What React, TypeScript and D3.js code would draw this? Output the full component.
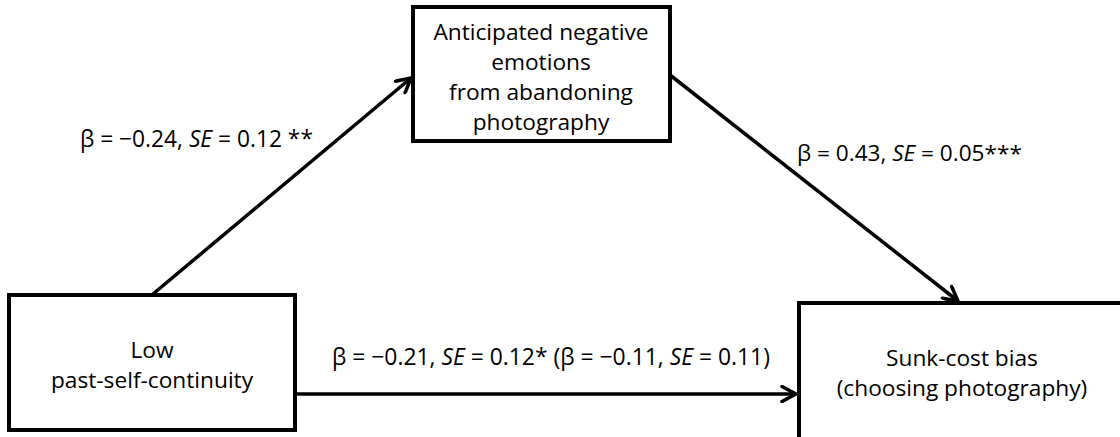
import React, { useEffect, useRef } from 'react';
import * as d3 from 'd3';

// mediation model: nodes, their label lines, and the path coefficients
const nodeIds = ['predictor', 'mediator', 'outcome'];
const nodeLines = [
  ['Low', 'past-self-continuity'],
  ['Anticipated negative', 'emotions', 'from abandoning', 'photography'],
  ['Sunk-cost bias', '(choosing photography)'],
];
const pathFrom = ['predictor', 'mediator', 'predictor'];
const pathTo = ['mediator', 'outcome', 'outcome'];
const pathBeta = ['\u22120.24', '0.43', '\u22120.21'];
const pathSE = ['0.12', '0.05', '0.12'];
const pathStars = [' **', '***', '*'];
const directBeta = ['', '', '\u22120.11'];
const directSE = ['', '', '0.11'];

const W = 1120;
const H = 437;
const FONT = '"Open Sans", Lato, sans-serif';
const FS = 21;
const BOX_FS = 22.7;

// layout of boxes (x0, y0, x1, y1)
const boxes: Record<string, number[]> = {
  predictor: [9, 295, 295, 430],
  mediator: [413, 7, 670, 141],
  outcome: [799, 303, 1130, 450],
};
// arrow endpoints per path
const anchors = [
  [[153, 294], [411, 78]],
  [[670, 75], [958, 301]],
  [[295, 394], [796, 394]],
];
const labelPos = [
  [80, 147],
  [797, 161],
  [332, 365],
];
const labelWidth = [233, 225, 438];

export default function App() {
  const ref = useRef<SVGSVGElement>(null);

  useEffect(() => {
    document.body.style.margin = '0';
    const svg = d3.select(ref.current);
    svg.selectAll('*').remove();

    svg.append('rect').attr('width', W).attr('height', H).attr('fill', '#fff');

    svg.append('defs').append('marker')
      .attr('id', 'chev')
      .attr('viewBox', '0 0 18 18')
      .attr('refX', 16).attr('refY', 9)
      .attr('markerWidth', 18).attr('markerHeight', 18)
      .attr('markerUnits', 'userSpaceOnUse')
      .attr('orient', 'auto')
      .append('path')
      .attr('d', 'M2,1.5 L16,9 L2,16.5')
      .attr('fill', 'none')
      .attr('stroke', '#000')
      .attr('stroke-width', 3.5)
      .attr('stroke-linecap', 'round')
      .attr('stroke-linejoin', 'round');

    const line = d3.line();

    // paths
    svg.selectAll('path.edge')
      .data(pathFrom.map((f, i) => ({ f, t: pathTo[i], pts: anchors[i] })))
      .enter()
      .append('path')
      .attr('class', 'edge')
      .attr('d', (d) => line(d.pts as [number, number][]))
      .attr('stroke', '#000')
      .attr('stroke-width', 3.5)
      .attr('fill', 'none')
      .attr('marker-end', 'url(#chev)');

    // boxes
    const g = svg.selectAll('g.node')
      .data(nodeIds.map((id, i) => ({ id, lines: nodeLines[i], b: boxes[id] })))
      .enter()
      .append('g')
      .attr('class', 'node');

    g.append('rect')
      .attr('x', (d) => d.b[0])
      .attr('y', (d) => d.b[1])
      .attr('width', (d) => d.b[2] - d.b[0])
      .attr('height', (d) => d.b[3] - d.b[1])
      .attr('fill', '#fff')
      .attr('stroke', '#000')
      .attr('stroke-width', 4);

    const textCenter: Record<string, number[]> = {
      predictor: [152, 358],
      mediator: [541, 40],
      outcome: [962, 366],
    };

    g.each(function (d) {
      const [cx, y0] = textCenter[d.id];
      const t = d3.select(this).append('text')
        .attr('text-anchor', 'middle')
        .attr('font-family', FONT)
        .attr('font-size', BOX_FS)
        .attr('fill', '#000');
      d.lines.forEach((s, i) => {
        t.append('tspan').attr('x', cx).attr('y', y0 + i * 30).text(s);
      });
    });

    // coefficient labels
    pathBeta.forEach((b, i) => {
      const [x, y] = labelPos[i];
      const t = svg.append('text')
        .attr('x', x)
        .attr('y', y)
        .attr('font-family', FONT)
        .attr('font-size', FS)
        .attr('fill', '#000');
      t.append('tspan').text(`\u03B2 = ${b}, `);
      t.append('tspan').attr('font-style', 'italic').text('SE');
      t.append('tspan').text(` = ${pathSE[i]}${pathStars[i]}`);
      if (directBeta[i]) {
        t.append('tspan').text(` (\u03B2 = ${directBeta[i]}, `);
        t.append('tspan').attr('font-style', 'italic').text('SE');
        t.append('tspan').text(` = ${directSE[i]})`);
      }
      // fit to the measured label width
      const w = (t.node() as SVGTextElement).getComputedTextLength();
      if (w > 0) t.attr('font-size', FS * labelWidth[i] / w);
    });
  }, []);

  return <svg ref={ref} width={W} height={H} style={{ display: 'block' }} />;
}
